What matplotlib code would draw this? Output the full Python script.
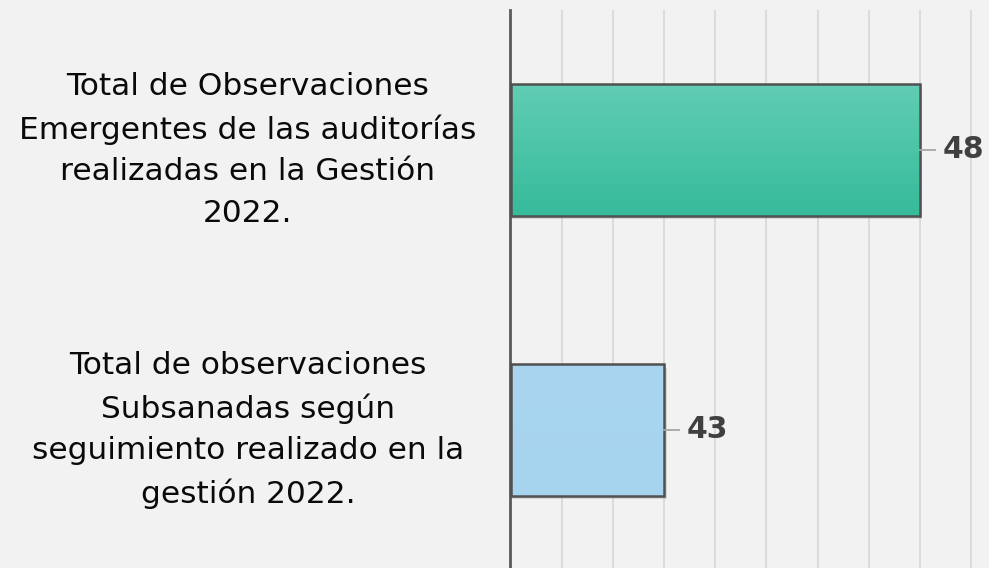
import matplotlib
matplotlib.use("Agg")
import matplotlib.pyplot as plt
import matplotlib.transforms as mtransforms
import numpy as np

categorias = [
    "Total de Observaciones\nEmergentes de las auditorías\nrealizadas en la Gestión\n2022.",
    "Total de observaciones\nSubsanadas según\nseguimiento realizado en la\ngestión 2022.",
]
valores = [48, 43]
colores_top = ["#60cdb4", "#a9d5f0"]
colores_bottom = ["#36bb9b", "#a6d3ee"]

fig = plt.figure(figsize=(9.89, 5.68), dpi=100, facecolor="#f2f2f2")
ax = fig.add_axes([510.5 / 989, -2 / 568, 1 - 510.5 / 989 + 0.001, 560 / 568])
ax.set_facecolor("#f2f2f2")

x0 = 40
ax.set_xlim(x0, 49.37)
ax.set_ylim(1.5, -0.5)
ax.set_xticks(np.arange(41, 50))
ax.xaxis.grid(True, color="#d9d9d9", lw=1.3)
ax.set_axisbelow(True)
ax.tick_params(left=False, bottom=False, labelleft=False, labelbottom=False)
for s in ["top", "right", "bottom"]:
    ax.spines[s].set_visible(False)
ax.spines["left"].set_color("#5a5a5a")
ax.spines["left"].set_linewidth(2)

alto = 0.47
bars = ax.barh(range(len(valores)), [v - x0 for v in valores], left=x0, height=alto,
               color="none", edgecolor="#505050", linewidth=1.8, zorder=3)

for i, (b, v) in enumerate(zip(bars, valores)):
    # sombra
    ax.barh(i + 0.012, v - x0 + 0.05, left=x0, height=alto, color="#000000",
            alpha=0.12, zorder=2, linewidth=0)
    grad = np.linspace(0, 1, 100).reshape(-1, 1)
    c1 = np.array(matplotlib.colors.to_rgb(colores_top[i]))
    c2 = np.array(matplotlib.colors.to_rgb(colores_bottom[i]))
    img = c1[None, None, :] * (1 - grad[:, :, None]) + c2[None, None, :] * grad[:, :, None]
    im = ax.imshow(img, extent=[x0, v, i + alto / 2, i - alto / 2], aspect="auto",
                   zorder=2.5, interpolation="bilinear")
    im.set_clip_path(b)
    # etiqueta de valor con linea guia
    ax.plot([v, v + 0.3], [i, i], color="#a6a6a6", lw=1.3, zorder=4, clip_on=False)
    ax.text(v + 0.45, i, str(v), ha="left", va="center", fontsize=21.5,
            fontweight="bold", color="#404040", family="DejaVu Sans", zorder=5)

trans = mtransforms.blended_transform_factory(fig.transFigure, ax.transData)
for i, cat in enumerate(categorias):
    ax.text(248 / 989, i, cat, transform=trans, ha="center", va="center",
            fontsize=22.5, color="#0a0a0a", family="DejaVu Sans", linespacing=1.55,
            clip_on=False)

fig.savefig("out.png", dpi=100, facecolor=fig.get_facecolor())
